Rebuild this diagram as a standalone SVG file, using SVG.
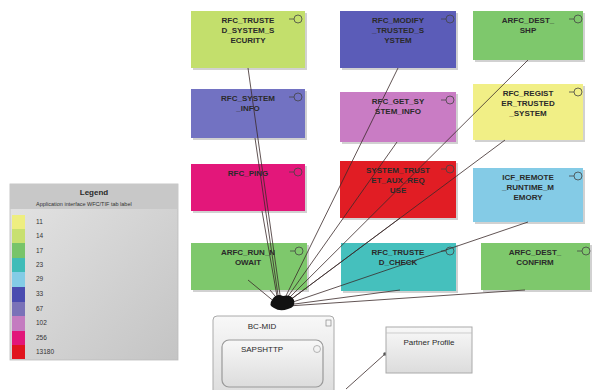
<svg xmlns="http://www.w3.org/2000/svg" width="594" height="390" viewBox="0 0 594 390">
  <defs>
    <style>
      .lbl { font-family: "Liberation Sans", Arial, sans-serif; font-size: 8px; fill: #2a2a2a; text-anchor: middle; font-weight: bold; }
      .lg { font-family: "Liberation Sans", Arial, sans-serif; font-size: 6.5px; fill: #333; }
      .node rect.body { stroke: none; }
      .shadow { fill: #000; opacity: 0.18; }
      .port { fill: none; stroke: #444; stroke-width: 0.8; }
      .conn line { stroke: #3a2a2a; stroke-width: 0.8; }
    </style>
    <linearGradient id="lgBg" x1="0" y1="0" x2="1" y2="1">
      <stop offset="0" stop-color="#e4e4e4"/>
      <stop offset="1" stop-color="#c4c4c4"/>
    </linearGradient>
    <linearGradient id="boxG" x1="0" y1="0" x2="0" y2="1">
      <stop offset="0" stop-color="#f8f8f8"/>
      <stop offset="1" stop-color="#dcdcdc"/>
    </linearGradient>
  </defs>

  <rect width="594" height="390" fill="#ffffff"/>

  <!-- Row 1 -->
  <g id="rfc_trusted_system_security" class="node">
    <rect class="shadow" x="193" y="13" width="114" height="57"/>
    <rect class="body" x="191" y="11" width="114" height="57" fill="#c3df6c"/>
    <line class="port" x1="289" y1="19" x2="294" y2="19"/><circle class="port" cx="298" cy="19" r="4"/>
    <text class="lbl" x="248" y="23">RFC_TRUSTE</text>
    <text class="lbl" x="248" y="33">D_SYSTEM_S</text>
    <text class="lbl" x="248" y="43">ECURITY</text>
  </g>
  <g id="rfc_modify_trusted_system" class="node">
    <rect class="shadow" x="342" y="13" width="116" height="57"/>
    <rect class="body" x="340" y="11" width="116" height="57" fill="#5b5cb8"/>
    <line class="port" x1="441" y1="19" x2="446" y2="19"/><circle class="port" cx="450" cy="19" r="4"/>
    <text class="lbl" x="398" y="23">RFC_MODIFY</text>
    <text class="lbl" x="398" y="33">_TRUSTED_S</text>
    <text class="lbl" x="398" y="43">YSTEM</text>
  </g>
  <g id="arfc_dest_shp" class="node">
    <rect class="shadow" x="475" y="13" width="110" height="49"/>
    <rect class="body" x="473" y="11" width="110" height="49" fill="#7ec86c"/>
    <line class="port" x1="569" y1="19" x2="574" y2="19"/><circle class="port" cx="578" cy="19" r="4"/>
    <text class="lbl" x="528" y="23">ARFC_DEST_</text>
    <text class="lbl" x="528" y="33">SHP</text>
  </g>

  <!-- Row 2 -->
  <g id="rfc_system_info" class="node">
    <rect class="shadow" x="193" y="91" width="114" height="49"/>
    <rect class="body" x="191" y="89" width="114" height="49" fill="#7272c2"/>
    <line class="port" x1="289" y1="97" x2="294" y2="97"/><circle class="port" cx="298" cy="97" r="4"/>
    <text class="lbl" x="248" y="101">RFC_SYSTEM</text>
    <text class="lbl" x="248" y="111">_INFO</text>
  </g>
  <g id="rfc_get_system_info" class="node">
    <rect class="shadow" x="342" y="94" width="116" height="50"/>
    <rect class="body" x="340" y="92" width="116" height="50" fill="#c97cc4"/>
    <line class="port" x1="441" y1="100" x2="446" y2="100"/><circle class="port" cx="450" cy="100" r="4"/>
    <text class="lbl" x="398" y="104">RFC_GET_SY</text>
    <text class="lbl" x="398" y="114">STEM_INFO</text>
  </g>
  <g id="rfc_register_trusted_system" class="node">
    <rect class="shadow" x="475" y="86" width="110" height="56"/>
    <rect class="body" x="473" y="84" width="110" height="56" fill="#f1ef86"/>
    <line class="port" x1="569" y1="92" x2="574" y2="92"/><circle class="port" cx="578" cy="92" r="4"/>
    <text class="lbl" x="528" y="96">RFC_REGIST</text>
    <text class="lbl" x="528" y="106">ER_TRUSTED</text>
    <text class="lbl" x="528" y="116">_SYSTEM</text>
  </g>

  <!-- Row 3 -->
  <g id="rfc_ping" class="node">
    <rect class="shadow" x="193" y="166" width="114" height="47"/>
    <rect class="body" x="191" y="164" width="114" height="47" fill="#e3177a"/>
    <line class="port" x1="289" y1="172" x2="294" y2="172"/><circle class="port" cx="298" cy="172" r="4"/>
    <text class="lbl" x="248" y="176">RFC_PING</text>
  </g>
  <g id="system_trust_aux_req_use" class="node">
    <rect class="shadow" x="342" y="163" width="116" height="57"/>
    <rect class="body" x="340" y="161" width="116" height="57" fill="#e11d24"/>
    <line class="port" x1="441" y1="169" x2="446" y2="169"/><circle class="port" cx="450" cy="169" r="4"/>
    <text class="lbl" x="398" y="173">SYSTEM_TRUST</text>
    <text class="lbl" x="398" y="183">ET_AUX_REQ</text>
    <text class="lbl" x="398" y="193">USE</text>
  </g>
  <g id="icf_remote_runtime_memory" class="node">
    <rect class="shadow" x="475" y="170" width="110" height="54"/>
    <rect class="body" x="473" y="168" width="110" height="54" fill="#84cbe6"/>
    <line class="port" x1="569" y1="176" x2="574" y2="176"/><circle class="port" cx="578" cy="176" r="4"/>
    <text class="lbl" x="528" y="180">ICF_REMOTE</text>
    <text class="lbl" x="528" y="190">_RUNTIME_M</text>
    <text class="lbl" x="528" y="200">EMORY</text>
  </g>

  <!-- Row 4 -->
  <g id="arfc_run_nowait" class="node">
    <rect class="shadow" x="193" y="245" width="116" height="47"/>
    <rect class="body" x="191" y="243" width="116" height="47" fill="#7ec86c"/>
    <line class="port" x1="290" y1="251" x2="295" y2="251"/><circle class="port" cx="299" cy="251" r="4"/>
    <text class="lbl" x="248" y="255">ARFC_RUN_N</text>
    <text class="lbl" x="248" y="265">OWAIT</text>
  </g>
  <g id="rfc_trusted_check" class="node">
    <rect class="shadow" x="343" y="245" width="115" height="48"/>
    <rect class="body" x="341" y="243" width="115" height="48" fill="#45c0bd"/>
    <line class="port" x1="441" y1="251" x2="446" y2="251"/><circle class="port" cx="450" cy="251" r="4"/>
    <text class="lbl" x="398" y="255">RFC_TRUSTE</text>
    <text class="lbl" x="398" y="265">D_CHECK</text>
  </g>
  <g id="arfc_dest_confirm" class="node">
    <rect class="shadow" x="483" y="245" width="109" height="47"/>
    <rect class="body" x="481" y="243" width="109" height="47" fill="#7ec86c"/>
    <line class="port" x1="577" y1="251" x2="582" y2="251"/><circle class="port" cx="586" cy="251" r="4"/>
    <text class="lbl" x="535" y="255">ARFC_DEST_</text>
    <text class="lbl" x="535" y="265">CONFIRM</text>
  </g>

  <!-- Connectors: every function module links to the BC-MID component -->
  <g id="connectors" class="conn">
    <line x1="248" y1="68" x2="281" y2="302"/>
    <line x1="398" y1="68" x2="283" y2="302"/>
    <line x1="528" y1="60" x2="285" y2="302"/>
    <line x1="255" y1="138" x2="279" y2="302"/>
    <line x1="397" y1="142" x2="284" y2="302"/>
    <line x1="505" y1="140" x2="286" y2="303"/>
    <line x1="262" y1="211" x2="278" y2="302"/>
    <line x1="400" y1="218" x2="286" y2="303"/>
    <line x1="528" y1="222" x2="287" y2="304"/>
    <line x1="248" y1="280" x2="276" y2="303"/>
    <line x1="270" y1="290" x2="280" y2="302"/>
    <line x1="400" y1="290" x2="287" y2="305"/>
    <line x1="525" y1="290" x2="288" y2="306"/>
    <line x1="346" y1="389" x2="385" y2="354"/>
    <!-- hub where the links meet -->
    <path d="M272 300 Q276 293 283 296 Q291 294 294 300 Q296 307 288 309 Q280 312 274 308 Q268 305 272 300 Z" fill="#111"/>
    <circle cx="385" cy="354" r="1.8" fill="#555"/>
  </g>

  <!-- BC-MID component with SAPSHTTP -->
  <g id="bc_mid">
    <rect x="213" y="316" width="121" height="80" rx="4" fill="url(#boxG)" stroke="#aaa" stroke-width="1"/>
    <text class="lbl" x="262" y="329" style="font-weight:normal">BC-MID</text>
    <rect x="326" y="320" width="5" height="6" fill="none" stroke="#888" stroke-width="0.7"/>
    <g id="sapshttp">
      <rect x="222" y="340" width="101" height="47" rx="7" fill="url(#boxG)" stroke="#999" stroke-width="1.2"/>
      <text class="lbl" x="262" y="352" style="font-weight:normal">SAPSHTTP</text>
      <circle cx="317" cy="349" r="3.5" fill="none" stroke="#999" stroke-width="0.7"/>
    </g>
  </g>

  <g id="partner_profile">
    <rect x="386" y="327" width="86" height="46" fill="url(#boxG)" stroke="#aaa" stroke-width="1"/>
    <line x1="386" y1="333" x2="472" y2="333" stroke="#bbb" stroke-width="0.7"/>
    <text class="lbl" x="429" y="345" style="font-weight:normal">Partner Profile</text>
  </g>

  <!-- Legend -->
  <g id="legend">
    <rect x="10" y="184" width="168" height="176" fill="url(#lgBg)" stroke="#bbb" stroke-width="0.8"/>
    <rect x="10" y="184" width="168" height="25" fill="#c8c8c8"/>
    <text class="lbl" x="94" y="195" style="font-size:8px">Legend</text>
    <text class="lg" x="36" y="206" style="font-size:5.5px">Application interface WFC/TIF tab label</text>
    <g class="lg">
      <rect x="12" y="215" width="13" height="14" fill="#eeee80"/><text x="36" y="224">11</text>
      <rect x="12" y="229" width="13" height="14" fill="#c8e070"/><text x="36" y="238">14</text>
      <rect x="12" y="243" width="13" height="15" fill="#78c46a"/><text x="36" y="253">17</text>
      <rect x="12" y="258" width="13" height="14" fill="#40bcb8"/><text x="36" y="267">23</text>
      <rect x="12" y="272" width="13" height="15" fill="#84cce6"/><text x="36" y="281">29</text>
      <rect x="12" y="287" width="13" height="15" fill="#4a4cb0"/><text x="36" y="296">33</text>
      <rect x="12" y="302" width="13" height="14" fill="#7a72b8"/><text x="36" y="311">67</text>
      <rect x="12" y="316" width="13" height="15" fill="#c47cc0"/><text x="36" y="325">102</text>
      <rect x="12" y="331" width="13" height="14" fill="#e2177a"/><text x="36" y="340">256</text>
      <rect x="12" y="345" width="13" height="14" fill="#e1141e"/><text x="36" y="354">13180</text>
    </g>
  </g>
</svg>
